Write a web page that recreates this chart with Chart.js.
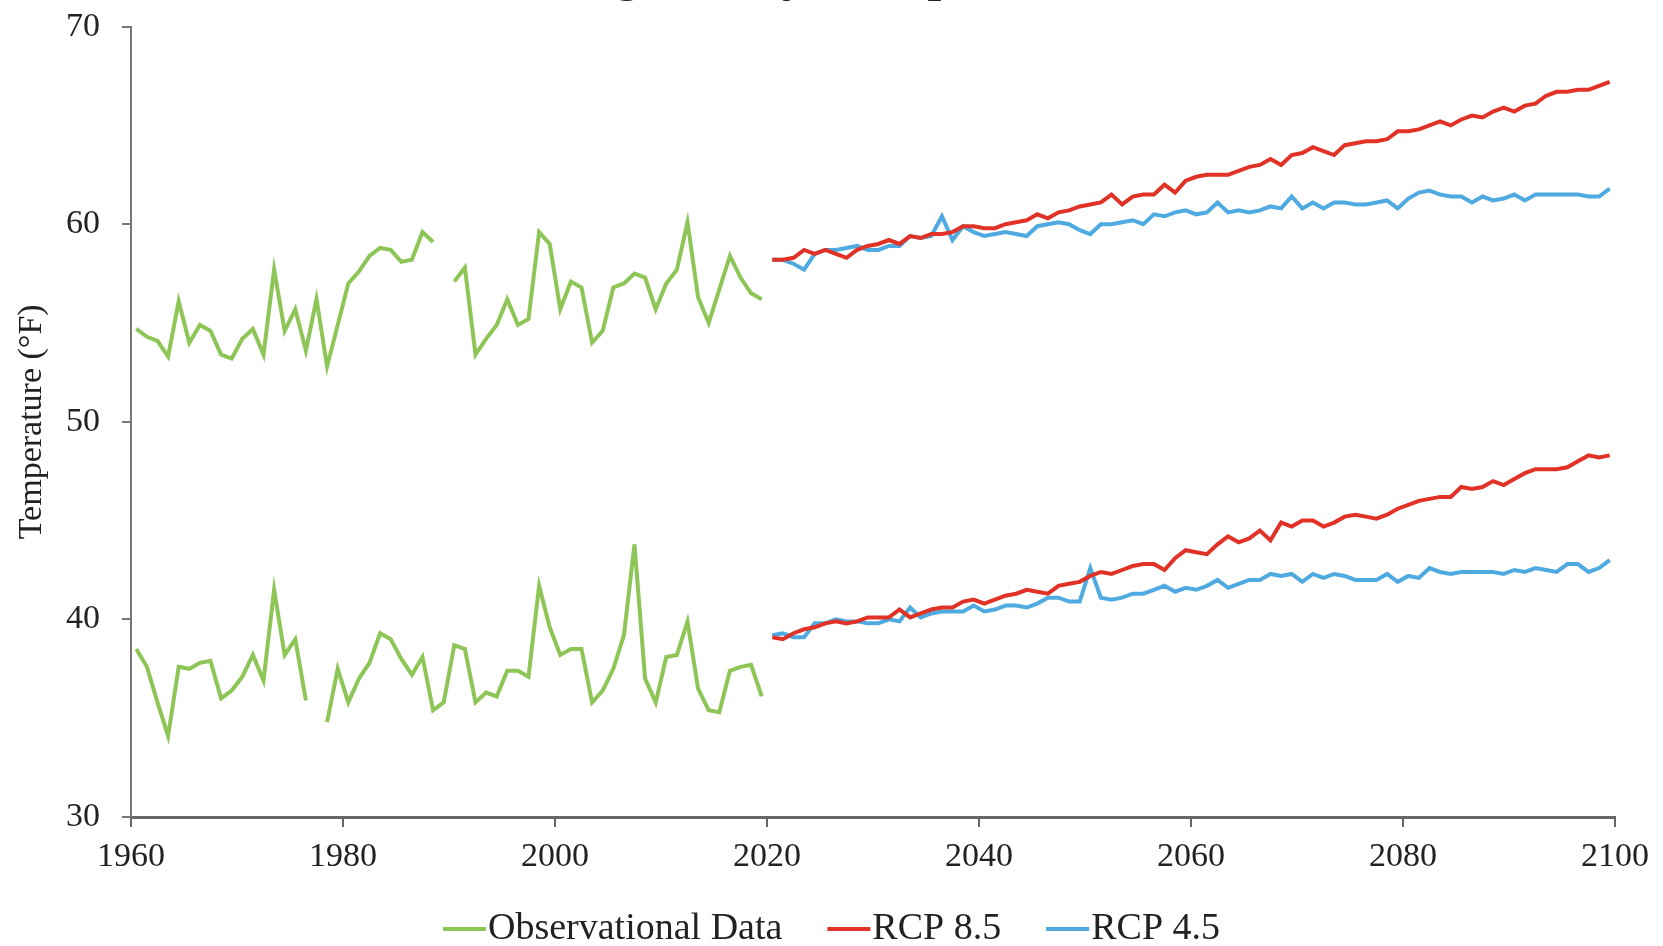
<!DOCTYPE html>
<html>
<head>
<meta charset="utf-8">
<title>Average Daily Temperatures</title>
<script src="https://cdn.jsdelivr.net/npm/chart.js@4.4.1/dist/chart.umd.min.js"></script>
<style>
  html, body { margin: 0; padding: 0; background: #fff; overflow: hidden; }
  #wrap { position: relative; width: 1663px; height: 946px; overflow: hidden; }
  #tempChart { position: absolute; left: 0; top: -61px; }
</style>
</head>
<body>
<div id="wrap">
  <canvas id="tempChart" width="1663" height="1021"></canvas>
</div>
<script>
// Observed years and projection years
const obsYears = [];
for (let y = 1960; y <= 2019; y++) obsYears.push(y);
const rcpYears = [];
for (let y = 2020; y <= 2099; y++) rcpYears.push(y);

// Observational data (null = missing year)
const obsHigh = [
  54.7, 54.3, 54.1, 53.3, 56.1, 54.0, 54.9, 54.6, 53.4, 53.2,
  54.2, 54.7, 53.4, 57.7, 54.6, 55.7, 53.6, 56.2, 52.8, 54.9,
  57.0, 57.6, 58.4, 58.8, 58.7, 58.1, 58.2, 59.6, 59.1, null,
  57.1, 57.8, 53.4, 54.2, 54.9, 56.2, 54.9, 55.2, 59.6, 59.0,
  55.7, 57.1, 56.8, 54.0, 54.6, 56.8, 57.0, 57.5, 57.3, 55.7,
  57.0, 57.7, 60.1, 56.3, 55.0, 56.7, 58.4, 57.3, 56.5, 56.2
];
const obsLow = [
  38.5, 37.6, 35.8, 34.1, 37.6, 37.5, 37.8, 37.9, 36.0, 36.4,
  37.1, 38.2, 36.9, 41.5, 38.2, 39.0, 35.9, null, 34.8, 37.5,
  35.8, 37.0, 37.8, 39.3, 39.0, 38.0, 37.2, 38.1, 35.4, 35.8,
  38.7, 38.5, 35.8, 36.3, 36.1, 37.4, 37.4, 37.1, 41.7, 39.6,
  38.2, 38.5, 38.5, 35.8, 36.4, 37.5, 39.2, 43.8, 37.0, 35.8,
  38.1, 38.2, 39.9, 36.5, 35.4, 35.3, 37.4, 37.6, 37.7, 36.1
];

// RCP 8.5 projections
const rcp85High = [
  58.2, 58.2, 58.3, 58.7, 58.5, 58.7, 58.5, 58.3, 58.7, 58.9,
  59.0, 59.2, 59.0, 59.4, 59.3, 59.5, 59.5, 59.6, 59.9, 59.9,
  59.8, 59.8, 60.0, 60.1, 60.2, 60.5, 60.3, 60.6, 60.7, 60.9,
  61.0, 61.1, 61.5, 61.0, 61.4, 61.5, 61.5, 62.0, 61.6, 62.2,
  62.4, 62.5, 62.5, 62.5, 62.7, 62.9, 63.0, 63.3, 63.0, 63.5,
  63.6, 63.9, 63.7, 63.5, 64.0, 64.1, 64.2, 64.2, 64.3, 64.7,
  64.7, 64.8, 65.0, 65.2, 65.0, 65.3, 65.5, 65.4, 65.7, 65.9,
  65.7, 66.0, 66.1, 66.5, 66.7, 66.7, 66.8, 66.8, 67.0, 67.2
];
const rcp85Low = [
  39.1, 39.0, 39.3, 39.5, 39.6, 39.8, 39.9, 39.8, 39.9, 40.1,
  40.1, 40.1, 40.5, 40.1, 40.3, 40.5, 40.6, 40.6, 40.9, 41.0,
  40.8, 41.0, 41.2, 41.3, 41.5, 41.4, 41.3, 41.7, 41.8, 41.9,
  42.2, 42.4, 42.3, 42.5, 42.7, 42.8, 42.8, 42.5, 43.1, 43.5,
  43.4, 43.3, 43.8, 44.2, 43.9, 44.1, 44.5, 44.0, 44.9, 44.7,
  45.0, 45.0, 44.7, 44.9, 45.2, 45.3, 45.2, 45.1, 45.3, 45.6,
  45.8, 46.0, 46.1, 46.2, 46.2, 46.7, 46.6, 46.7, 47.0, 46.8,
  47.1, 47.4, 47.6, 47.6, 47.6, 47.7, 48.0, 48.3, 48.2, 48.3
];

// RCP 4.5 projections
const rcp45High = [
  58.2, 58.2, 58.0, 57.7, 58.5, 58.7, 58.7, 58.8, 58.9, 58.7,
  58.7, 58.9, 58.9, 59.4, 59.3, 59.4, 60.4, 59.2, 59.9, 59.6,
  59.4, 59.5, 59.6, 59.5, 59.4, 59.9, 60.0, 60.1, 60.0, 59.7,
  59.5, 60.0, 60.0, 60.1, 60.2, 60.0, 60.5, 60.4, 60.6, 60.7,
  60.5, 60.6, 61.1, 60.6, 60.7, 60.6, 60.7, 60.9, 60.8, 61.4,
  60.8, 61.1, 60.8, 61.1, 61.1, 61.0, 61.0, 61.1, 61.2, 60.8,
  61.3, 61.6, 61.7, 61.5, 61.4, 61.4, 61.1, 61.4, 61.2, 61.3,
  61.5, 61.2, 61.5, 61.5, 61.5, 61.5, 61.5, 61.4, 61.4, 61.8
];
const rcp45Low = [
  39.2, 39.3, 39.1, 39.1, 39.8, 39.8, 40.0, 39.9, 39.9, 39.8,
  39.8, 40.0, 39.9, 40.6, 40.1, 40.3, 40.4, 40.4, 40.4, 40.7,
  40.4, 40.5, 40.7, 40.7, 40.6, 40.8, 41.1, 41.1, 40.9, 40.9,
  42.6, 41.1, 41.0, 41.1, 41.3, 41.3, 41.5, 41.7, 41.4, 41.6,
  41.5, 41.7, 42.0, 41.6, 41.8, 42.0, 42.0, 42.3, 42.2, 42.3,
  41.9, 42.3, 42.1, 42.3, 42.2, 42.0, 42.0, 42.0, 42.3, 41.9,
  42.2, 42.1, 42.6, 42.4, 42.3, 42.4, 42.4, 42.4, 42.4, 42.3,
  42.5, 42.4, 42.6, 42.5, 42.4, 42.8, 42.8, 42.4, 42.6, 43.0
];

const xTicks = [1960, 1980, 2000, 2020, 2040, 2060, 2080, 2100];

const GREEN = 'rgb(141, 198, 86)';
const RED = 'rgb(224, 50, 38)';
const BLUE = 'rgb(78, 170, 224)';
const FONT = '"Liberation Serif", "DejaVu Serif", serif';

// annual values are plotted at mid-year
function toPoints(years, values) {
  return years.map((yr, i) => ({ x: yr + 0.5, y: values[i] }));
}

function line(label, years, values, color) {
  return {
    label: label,
    data: toPoints(years, values),
    borderColor: color,
    backgroundColor: color,
    borderWidth: 4,
    pointRadius: 0,
    tension: 0,
    spanGaps: false
  };
}

// Legend drawn as "—Label" with the line marker touching the text
const lineLegend = {
  id: 'lineLegend',
  afterDraw(chart) {
    const c = chart.ctx;
    const items = chart.data.datasets.slice(0, 3);
    const markW = 43, gap = 2, space = 45;
    c.save();
    c.font = '38px ' + FONT;
    c.textBaseline = 'middle';
    c.textAlign = 'left';
    const widths = items.map(d => markW + gap + c.measureText(d.label).width);
    const total = widths.reduce((a, b) => a + b, 0) + space * (items.length - 1);
    let x = (chart.width - total) / 2;
    const y = chart.chartArea.bottom + 112;
    items.forEach((d, i) => {
      c.strokeStyle = d.borderColor;
      c.lineWidth = 4;
      c.beginPath();
      c.moveTo(x, y);
      c.lineTo(x + markW, y);
      c.stroke();
      c.fillStyle = '#222';
      c.fillText(d.label, x + markW + gap, y);
      x += widths[i] + space;
    });
    c.restore();
  }
};

const ctx = document.getElementById('tempChart').getContext('2d');
const chart = new Chart(ctx, {
  type: 'line',
  data: {
    datasets: [
      line('Observational Data', obsYears, obsHigh, GREEN),
      line('RCP 8.5', rcpYears, rcp85High, RED),
      line('RCP 4.5', rcpYears, rcp45High, BLUE),
      line('Observational Data', obsYears, obsLow, GREEN),
      line('RCP 8.5', rcpYears, rcp85Low, RED),
      line('RCP 4.5', rcpYears, rcp45Low, BLUE)
    ]
  },
  plugins: [lineLegend],
  options: {
    responsive: false,
    animation: false,
    layout: { padding: { left: 0, right: 48, top: 0, bottom: 85 } },
    plugins: {
      title: {
        display: true,
        text: 'Average Daily Temperatures',
        color: '#222',
        font: { family: FONT, size: 58, weight: 'normal' },
        padding: { top: 0, bottom: 18 }
      },
      legend: { display: false },
      tooltip: { enabled: false }
    },
    scales: {
      x: {
        type: 'linear',
        min: 1960,
        max: 2100,
        afterBuildTicks: function (scale) {
          scale.ticks = xTicks.map(v => ({ value: v }));
        },
        afterFit: function (scale) { scale.height = 58; },
        ticks: {
          color: '#222',
          font: { family: FONT, size: 34 },
          padding: 10,
          maxRotation: 0,
          callback: v => String(v)
        },
        grid: { drawOnChartArea: false, color: '#666', lineWidth: 2, tickLength: 10 },
        border: { color: '#666', width: 3 }
      },
      y: {
        min: 30,
        max: 70,
        afterFit: function (scale) { scale.width = 131; },
        ticks: {
          stepSize: 10,
          color: '#222',
          font: { family: FONT, size: 34 },
          padding: 22
        },
        title: {
          display: true,
          text: 'Temperature (°F)',
          color: '#222',
          font: { family: FONT, size: 34 },
          padding: 12
        },
        grid: { drawOnChartArea: false, color: '#777', lineWidth: 2, tickLength: 9 },
        border: { color: '#777', width: 2 }
      }
    }
  }
});
</script>
</body>
</html>
